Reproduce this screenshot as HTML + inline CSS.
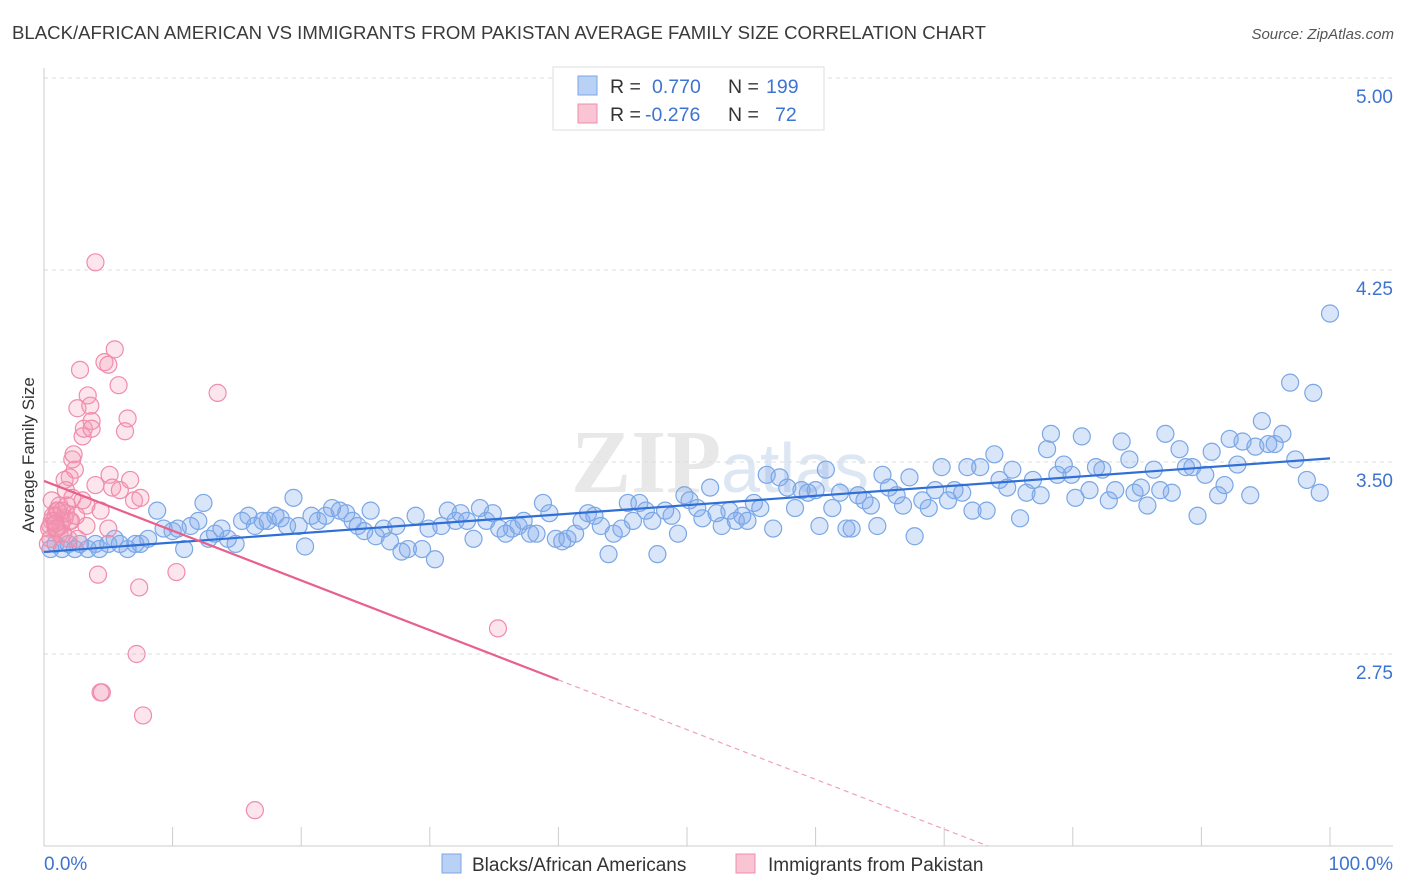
<!DOCTYPE html>
<html><head><meta charset="utf-8">
<style>
body{margin:0;background:#fff;font-family:"Liberation Sans",sans-serif;}
#wrap{position:relative;width:1406px;height:892px;overflow:hidden;}
</style></head><body>
<div id="wrap">
<svg id="chart" width="1406" height="892">
<text x="12" y="39" font-size="18.6" fill="#3a3a3a">BLACK/AFRICAN AMERICAN VS IMMIGRANTS FROM PAKISTAN AVERAGE FAMILY SIZE CORRELATION CHART</text>
<text x="1394" y="39" font-size="15" fill="#555" font-style="italic" text-anchor="end">Source: ZipAtlas.com</text>
<text x="720" y="492" font-size="90" fill="#e8e8e8" text-anchor="middle" font-family="Liberation Serif" font-weight="bold">ZIP<tspan fill="#dde6f3" font-family="Liberation Sans" font-weight="normal" font-size="70">atlas</tspan></text>
<text transform="translate(34,455) rotate(-90)" font-size="17" fill="#333" text-anchor="middle">Average Family Size</text>
<g id="grid"></g><g id="axes"></g><g id="pts"></g><g id="trends"></g>
<g>
<rect x="553" y="67" width="271" height="63" fill="#fff" stroke="#ddd"/>
<rect x="578" y="76" width="19" height="19" fill="#b9d1f4" stroke="#7aa7e6"/>
<rect x="578" y="104" width="19" height="19" fill="#f9c4d3" stroke="#f08cab"/>
<text font-size="19.5" fill="#333"><tspan x="610" y="93">R =</tspan><tspan x="652" fill="#3d74d0">0.770</tspan><tspan x="728">N =</tspan><tspan x="766" fill="#3d74d0">199</tspan></text>
<text font-size="19.5" fill="#333"><tspan x="610" y="121">R =</tspan><tspan x="645" fill="#3d74d0">-0.276</tspan><tspan x="728">N =</tspan><tspan x="775" fill="#3d74d0">72</tspan></text>
</g>
<g>
<rect x="442" y="854" width="19" height="19" fill="#b9d1f4" stroke="#7aa7e6"/>
<text x="472" y="871" font-size="19" fill="#333">Blacks/African Americans</text>
<rect x="736" y="854" width="19" height="19" fill="#f9c4d3" stroke="#f08cab"/>
<text x="768" y="871" font-size="19" fill="#333">Immigrants from Pakistan</text>
</g>
</svg>
</div>
<script>
const yTicks=[5.00,4.25,3.50,2.75];
const yTickLabels=["5.00","4.25","3.50","2.75"];
const xTicks=[0,10,20,30,40,50,60,70,80,90,100];
const blueX=[0.5,0.9,1.4,1.9,2.4,2.8,3.4,4.0,4.3,5.0,5.5,5.9,6.5,7.1,7.5,8.1,8.8,9.3,10.0,10.4,10.9,11.4,12.0,12.4,12.8,13.3,13.8,14.3,14.9,15.4,15.9,16.4,17.0,17.4,18.0,18.4,18.9,19.4,19.8,20.3,20.8,21.3,21.9,22.4,23.0,23.5,24.0,24.4,24.9,25.4,25.8,26.4,26.9,27.4,27.8,28.3,28.9,29.4,29.9,30.4,30.9,31.4,32.0,32.4,32.9,33.4,33.9,34.4,34.9,35.4,35.9,36.4,36.9,37.3,37.8,38.3,38.8,39.3,39.8,40.3,40.7,41.3,41.8,42.3,42.8,43.3,43.9,44.3,44.9,45.4,45.8,46.3,46.8,47.3,47.7,48.3,48.8,49.3,49.8,50.2,50.8,51.2,51.8,52.3,52.7,53.3,53.8,54.3,54.7,55.2,55.7,56.2,56.7,57.2,57.8,58.4,58.9,59.4,60.0,60.3,60.8,61.3,61.9,62.4,62.8,63.3,63.8,64.3,64.8,65.2,65.7,66.3,66.8,67.3,67.7,68.3,68.8,69.3,69.8,70.3,70.8,71.4,71.8,72.2,72.8,73.3,73.9,74.3,74.9,75.3,75.9,76.4,76.9,77.5,78.0,78.3,78.8,79.3,79.9,80.2,80.7,81.3,81.8,82.3,82.8,83.3,83.8,84.4,84.8,85.3,85.8,86.3,86.8,87.2,87.7,88.3,88.8,89.3,89.7,90.3,90.8,91.3,91.8,92.2,92.8,93.2,93.8,94.2,94.7,95.2,95.7,96.3,96.9,97.3,98.2,98.7,99.2,100];
const blueY=[3.16,3.18,3.16,3.18,3.16,3.18,3.16,3.18,3.16,3.18,3.20,3.18,3.16,3.18,3.18,3.20,3.31,3.24,3.23,3.24,3.16,3.25,3.27,3.34,3.20,3.22,3.24,3.20,3.18,3.27,3.29,3.25,3.27,3.27,3.29,3.28,3.25,3.36,3.25,3.17,3.29,3.27,3.29,3.32,3.31,3.30,3.27,3.25,3.23,3.31,3.21,3.24,3.19,3.25,3.15,3.16,3.29,3.16,3.24,3.12,3.25,3.31,3.27,3.30,3.27,3.20,3.32,3.27,3.30,3.24,3.22,3.24,3.25,3.27,3.22,3.22,3.34,3.30,3.20,3.19,3.20,3.22,3.27,3.30,3.29,3.25,3.14,3.22,3.24,3.34,3.27,3.34,3.31,3.27,3.14,3.31,3.29,3.22,3.37,3.35,3.32,3.28,3.40,3.30,3.25,3.31,3.27,3.29,3.27,3.34,3.32,3.45,3.24,3.44,3.40,3.32,3.39,3.38,3.39,3.25,3.47,3.32,3.38,3.24,3.24,3.37,3.35,3.33,3.25,3.45,3.40,3.37,3.33,3.44,3.21,3.35,3.32,3.39,3.48,3.35,3.39,3.38,3.48,3.31,3.48,3.31,3.53,3.43,3.40,3.47,3.28,3.38,3.43,3.37,3.55,3.61,3.45,3.49,3.45,3.36,3.60,3.39,3.48,3.47,3.35,3.39,3.58,3.51,3.38,3.40,3.33,3.47,3.39,3.61,3.38,3.55,3.48,3.48,3.29,3.45,3.54,3.37,3.41,3.59,3.49,3.58,3.37,3.56,3.66,3.57,3.57,3.61,3.81,3.51,3.43,3.77,3.38,4.08];
const pinkX=[0.3,0.5,0.6,0.9,1.0,1.2,1.4,1.6,1.7,1.9,2.0,2.2,2.3,2.6,2.8,3.0,3.1,3.3,3.4,3.6,3.7,4.0,4.2,4.4,4.5,4.7,5.0,5.1,5.3,5.5,5.8,5.9,6.3,6.5,6.7,7.0,7.2,7.4,7.5,7.7,10.3,13.5,16.4,35.3,2.6,3.0,1.7,3.7,1.2,0.9,2.0,0.6,4.0,2.4,4.4,3.3,1.6,5.0,0.4,0.8,1.1,1.3,1.5,0.7,1.8,2.1,0.5,1.0,1.4,2.2,2.5,0.9];
const pinkY=[3.18,3.25,3.27,3.29,3.31,3.33,3.27,3.28,3.30,3.20,3.44,3.51,3.53,3.71,3.86,3.60,3.63,3.33,3.76,3.72,3.66,3.41,3.06,2.60,2.60,3.89,3.24,3.45,3.40,3.94,3.80,3.39,3.62,3.67,3.43,3.35,2.75,3.01,3.36,2.51,3.07,3.77,2.14,2.85,3.20,3.35,3.39,3.63,3.22,3.24,3.27,3.35,4.28,3.47,3.31,3.25,3.43,3.88,3.24,3.27,3.31,3.25,3.22,3.29,3.33,3.27,3.20,3.24,3.31,3.36,3.29,3.26];
const pinkTrend=[3.426,-0.01943];
const NS='http://www.w3.org/2000/svg';
const X0=44,X1=1330,YTOP=78,YBOT=846,YMAX=5,YMIN=2;
const xs=v=>X0+(X1-X0)*v/100;
const ys=v=>YBOT-(YBOT-YTOP)*(v-YMIN)/(YMAX-YMIN);
function mk(tag,attrs,parent){const e=document.createElementNS(NS,tag);for(const k in attrs)e.setAttribute(k,attrs[k]);parent.appendChild(e);return e;}
const grid=document.getElementById('grid'),axes=document.getElementById('axes'),pts=document.getElementById('pts'),tr=document.getElementById('trends');
yTicks.forEach((t,i)=>{
 const l=mk('line',{x1:X0,x2:1393,y1:ys(t),y2:ys(t),stroke:'#ddd','stroke-dasharray':'4,4'},grid);
 
 
 const tx=mk('text',{x:1393,y:ys(t)+25,'font-size':19,fill:'#3d74d0','text-anchor':'end'},axes);
 tx.textContent=yTickLabels[i];
 
 
});
const ax=mk('line',{x1:X0,x2:1393,y1:YBOT,y2:YBOT,stroke:'#ccc'},axes);


const ayl=mk('line',{x1:X0,x2:X0,y1:68,y2:YBOT,stroke:'#ccc'},axes);


xTicks.forEach(t=>{
 const l=mk('line',{x1:xs(t),x2:xs(t),y1:YBOT-19,y2:YBOT,stroke:'#ccc'},axes);
 
 
});
const xl0=mk('text',{x:44,y:870,'font-size':19,fill:'#3d74d0'},axes);xl0.textContent='0.0%';


const xl1=mk('text',{x:1393,y:870,'font-size':19,fill:'#3d74d0','text-anchor':'end'},axes);xl1.textContent='100.0%';


blueX.forEach((x,i)=>{
 const c=mk('circle',{cx:xs(x),cy:ys(blueY[i]),r:8.5,fill:'rgba(130,170,235,0.3)',stroke:'#7aa7e6','stroke-width':1.2},pts);
 
 
});
pinkX.forEach((x,i)=>{
 const c=mk('circle',{cx:xs(x),cy:ys(pinkY[i]),r:8.5,fill:'rgba(245,150,180,0.25)',stroke:'#f08cab','stroke-width':1.2},pts);
 
 
});
function reg(X,Y){const n=X.length;let mx=0,my=0;for(let i=0;i<n;i++){mx+=X[i];my+=Y[i];}mx/=n;my/=n;let sxy=0,sxx=0;for(let i=0;i<n;i++){sxy+=(X[i]-mx)*(Y[i]-my);sxx+=(X[i]-mx)**2;}const b=sxy/sxx;return [my-b*mx,b];}
const [ba,bb]=reg(blueX,blueY);
const bl=mk('line',{x1:xs(0),y1:ys(ba),x2:xs(100),y2:ys(ba+bb*100),stroke:'#2f6fd6','stroke-width':2.2},tr);


const pa=pinkTrend[0],pb=pinkTrend[1];
const xEnd=Math.min(100,(YMIN-pa)/pb);
const pl=mk('line',{x1:xs(0),y1:ys(pa),x2:xs(40),y2:ys(pa+pb*40),stroke:'#e8608c','stroke-width':2.2},tr);


const pd=mk('line',{x1:xs(40),y1:ys(pa+pb*40),x2:xs(xEnd),y2:ys(pa+pb*xEnd),stroke:'#f0a0ba','stroke-width':1.2,'stroke-dasharray':'5,4'},tr);


</script>
</body></html>
